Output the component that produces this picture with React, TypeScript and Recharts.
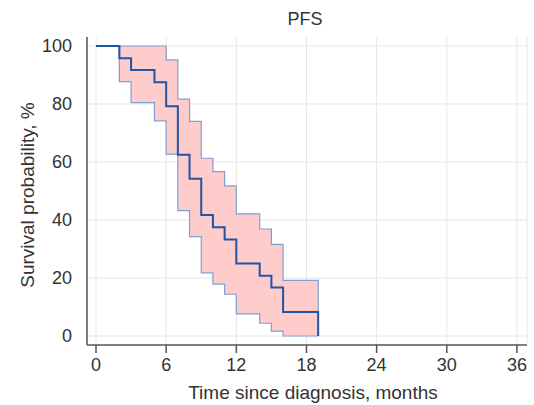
import React from "react";
import {
  ComposedChart,
  Area,
  Line,
  XAxis,
  YAxis,
  CartesianGrid,
} from "recharts";

// Kaplan-Meier PFS estimate with 95% CI band
const times = [0, 2, 3, 5, 6, 7, 8, 9, 10, 11, 12, 14, 15, 16, 19];
const survival = [100, 95.8, 91.7, 87.5, 79.2, 62.5, 54.2, 41.7, 37.5, 33.3, 25.0, 20.8, 16.7, 8.3, 0];
const upperCI = [100, 100, 100, 100, 95.2, 81.7, 74.0, 61.3, 56.7, 51.8, 42.1, 36.9, 31.6, 19.2, 0];
const lowerCI = [100, 87.7, 80.5, 74.2, 62.7, 43.2, 34.3, 21.8, 17.9, 14.4, 7.6, 4.4, 1.7, 0, 0];

const xTicks = [0, 6, 12, 18, 24, 30, 36];
const yTicks = [0, 10, 20, 30, 40, 50, 60, 70, 80, 90, 100]; // odd tens are minor

const data = times.map((t, i) => ({
  time: t,
  survival: survival[i],
  ci: [lowerCI[i], upperCI[i]],
}));

const FONT = '"Liberation Sans", Arial, Helvetica, sans-serif';
const AXIS = "#555555";
const TEXT = "#333333";

// major ticks point out with a label, minor ticks point into the plot
function YTick(props: any) {
  const { x, y, payload, tickSize, tickMargin } = props;
  const axisX = x + tickSize + tickMargin;
  const major = payload.value % 20 === 0;
  if (!major) {
    return <line x1={axisX} x2={axisX + 5} y1={y} y2={y} stroke={AXIS} strokeWidth={1} />;
  }
  return (
    <g>
      <line x1={axisX - tickSize} x2={axisX} y1={y} y2={y} stroke={AXIS} strokeWidth={1.5} />
      <text x={x} y={y} dy="0.35em" textAnchor="end" fill={TEXT} fontSize={18} fontFamily={FONT}>
        {payload.value}
      </text>
    </g>
  );
}

export default function App() {
  return (
    <div style={{ position: "absolute", left: 0, top: 0, width: 534, height: 405, background: "#fff", fontFamily: FONT }}>
      <div
        style={{
          position: "absolute",
          left: 87,
          width: 436,
          top: 9,
          textAlign: "center",
          fontSize: 18,
          lineHeight: "21px",
          color: TEXT,
        }}
      >
        PFS
      </div>
      <ComposedChart
        width={534}
        height={405}
        data={data}
        margin={{ top: 37, right: 7, left: 27, bottom: 10 }}
        style={{ fontFamily: FONT }}
      >
        <CartesianGrid stroke="#e6e6e6" strokeWidth={1} horizontalValues={[0, 20, 40, 60, 80, 100]} />
        <XAxis
          dataKey="time"
          type="number"
          domain={[-0.77, 36.86]}
          allowDataOverflow
          ticks={xTicks}
          height={50}
          tickSize={8}
          tickMargin={5}
          axisLine={{ stroke: AXIS, strokeWidth: 1.5 }}
          tickLine={{ stroke: AXIS, strokeWidth: 1.5 }}
          tick={{ fill: TEXT, fontSize: 18 }}
          label={{
            value: "Time since diagnosis, months",
            position: "insideBottom",
            offset: -4,
            dx: 6,
            fill: TEXT,
            fontSize: 19,
          }}
        />
        <YAxis
          width={60}
          type="number"
          domain={[-3.1, 103.1]}
          allowDataOverflow
          ticks={yTicks}
          interval={0}
          tickSize={9}
          tickMargin={6}
          axisLine={{ stroke: AXIS, strokeWidth: 1.5 }}
          tickLine={false}
          tick={<YTick />}
          label={{
            value: "Survival probability, %",
            angle: -90,
            position: "insideLeft",
            offset: 0,
            dy: 4,
            fill: TEXT,
            fontSize: 19,
            style: { textAnchor: "middle" },
          }}
        />
        <Area
          dataKey="ci"
          type="stepAfter"
          fill="#ffcccc"
          fillOpacity={1}
          stroke="#7f9fd4"
          strokeWidth={1.2}
          isAnimationActive={false}
          dot={false}
          activeDot={false}
        />
        <Line
          dataKey="survival"
          type="stepAfter"
          stroke="#1f55a5"
          strokeWidth={2}
          dot={false}
          activeDot={false}
          isAnimationActive={false}
        />
      </ComposedChart>
    </div>
  );
}
